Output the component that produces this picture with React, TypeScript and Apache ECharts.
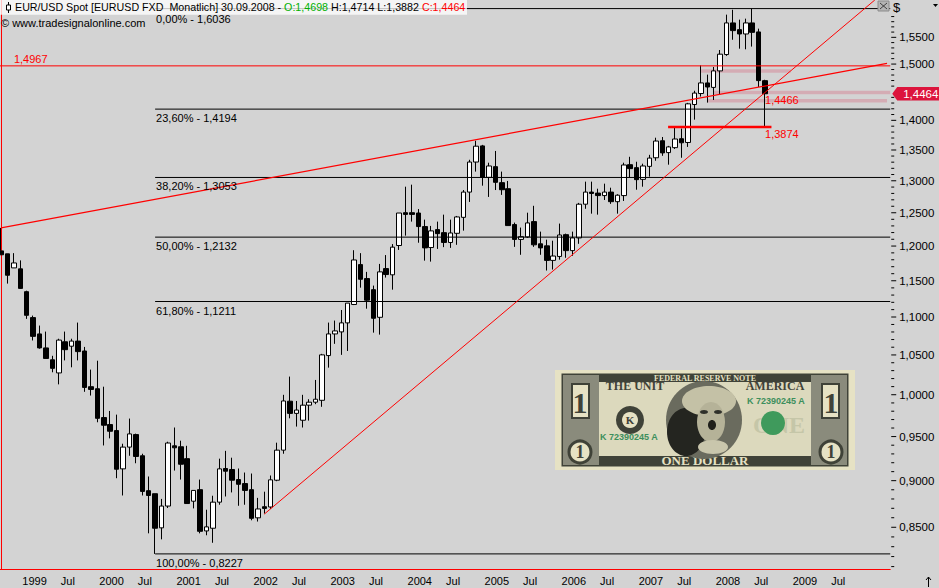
import { useEffect, useRef } from 'react';
import * as echarts from 'echarts';

const FONT = '"Liberation Sans", sans-serif';

const opens = [
  1.1929, 1.1886, 1.1683, 1.1669, 1.1347, 1.0992, 1.0774, 1.0591, 1.0438, 1.0271,
  1.0671, 1.0613, 1.068, 1.0551, 1.0099, 1.0074, 0.9724, 0.9641, 0.957, 0.9131,
  0.9378, 0.9523, 0.9279, 0.889, 0.8857, 0.8494, 0.8724, 0.9393, 0.9382, 0.9246,
  0.8776, 0.8901, 0.8462, 0.849, 0.8766, 0.9135, 0.9124, 0.9012, 0.8968, 0.8901,
  0.8599, 0.8717, 0.8714, 0.9005, 0.9343, 0.9921, 0.9774, 0.9692, 0.9873, 0.9909,
  0.9932, 1.0492, 1.0774, 1.0801, 1.0921, 1.117, 1.173, 1.1531, 1.1375, 1.0996,
  1.1673, 1.1584, 1.2008, 1.2501, 1.2501, 1.2496, 1.229, 1.1978, 1.2245, 1.2199,
  1.2053, 1.2189, 1.243, 1.2821, 1.3302, 1.3568, 1.3055, 1.3227, 1.297, 1.2874,
  1.232, 1.2098, 1.2135, 1.2365, 1.2033, 1.2003, 1.1791, 1.1848, 1.2169, 1.1933,
  1.212, 1.2632, 1.2821, 1.2805, 1.2766, 1.2821, 1.2671, 1.2766, 1.3259, 1.3211,
  1.3023, 1.3232, 1.3372, 1.3654, 1.3457, 1.3539, 1.3688, 1.3625, 1.4274, 1.4468,
  1.4657, 1.4577, 1.4875, 1.5176, 1.5776, 1.5647, 1.5564, 1.5776, 1.5603, 1.4698,
];
const closes = [
  1.1872, 1.1578, 1.1754, 1.1393, 1.1023, 1.0742, 1.0591, 1.0455, 1.0329, 1.0693,
  1.0568, 1.068, 1.0543, 1.009, 1.0065, 0.9715, 0.9633, 0.9562, 0.9127, 0.9378,
  0.9531, 0.9271, 0.8882, 0.8838, 0.849, 0.8724, 0.9425, 0.937, 0.9183, 0.8751,
  0.8893, 0.8458, 0.8504, 0.8766, 0.9131, 0.9105, 0.9005, 0.896, 0.8893, 0.8594,
  0.8693, 0.8699, 0.9009, 0.9343, 0.9924, 0.9774, 0.9814, 0.9873, 0.9909, 0.9945,
  1.0501, 1.0774, 1.0814, 1.0921, 1.1189, 1.1797, 1.1521, 1.1229, 1.0983, 1.1626,
  1.1588, 1.1984, 1.2496, 1.2475, 1.2475, 1.229, 1.1973, 1.2225, 1.2184, 1.2053,
  1.2194, 1.2436, 1.2821, 1.3302, 1.3563, 1.3055, 1.3238, 1.2975, 1.2858, 1.2305,
  1.2098, 1.2139, 1.2345, 1.2018, 1.1973, 1.1791, 1.1854, 1.2164, 1.1933, 1.212,
  1.2632, 1.2821, 1.2799, 1.2766, 1.2821, 1.2671, 1.2772, 1.3254, 1.3195, 1.3018,
  1.3238, 1.3367, 1.3649, 1.3452, 1.3551, 1.3683, 1.362, 1.4286, 1.4476, 1.4657,
  1.4584, 1.4875, 1.5183, 1.5776, 1.5628, 1.5564, 1.5776, 1.5595, 1.4699, 1.4464,
];
const highs = [
  1.227, 1.1886, 1.1896, 1.1791, 1.1361, 1.1019, 1.0885, 1.0805, 1.0489, 1.0711,
  1.0805, 1.0711, 1.0925, 1.0604, 1.0313, 1.0426, 1.0099, 0.9803, 0.9759, 0.9417,
  0.9712, 0.9534, 0.9302, 0.9046, 0.8857, 0.8801, 0.944, 0.9606, 0.9452, 0.9393,
  0.8893, 0.9012, 0.8685, 0.8835, 0.9246, 0.9335, 0.9257, 0.9135, 0.909, 0.9079,
  0.8812, 0.8879, 0.9057, 0.9429, 0.9999, 1.0225, 0.9924, 0.9999, 0.9945, 1.0183,
  1.0514, 1.0925, 1.0952, 1.1095, 1.1189, 1.1939, 1.1896, 1.1626, 1.1432, 1.174,
  1.1868, 1.2029, 1.2496, 1.2906, 1.2938, 1.2557, 1.2395, 1.23, 1.2365, 1.2471,
  1.2395, 1.2451, 1.2853, 1.3339, 1.3654, 1.3585, 1.3291, 1.3484, 1.3147, 1.2997,
  1.235, 1.2275, 1.2501, 1.2607, 1.2214, 1.2094, 1.2079, 1.2335, 1.2184, 1.2214,
  1.2652, 1.2986, 1.2986, 1.2874, 1.2954, 1.289, 1.2787, 1.3291, 1.3388, 1.3307,
  1.3275, 1.342, 1.3705, 1.3717, 1.3568, 1.3876, 1.3859, 1.4303, 1.4517, 1.4976,
  1.4807, 1.4947, 1.5261, 1.5937, 1.6033, 1.584, 1.5859, 1.6056, 1.5666, 1.4714,
];
const lows = [
  1.1872, 1.146, 1.1683, 1.1385, 1.0975, 1.0688, 1.0581, 1.0455, 1.0279, 1.0128,
  1.043, 1.0342, 1.043, 1.0036, 0.999, 0.9668, 0.9397, 0.9479, 0.9027, 0.8838,
  0.9279, 0.9194, 0.8838, 0.8437, 0.8227, 0.8375, 0.8703, 0.9112, 0.9012, 0.8751,
  0.8699, 0.8437, 0.8417, 0.834, 0.8738, 0.8827, 0.8871, 0.8727, 0.8738, 0.8573,
  0.856, 0.8644, 0.8693, 0.8994, 0.9302, 0.9715, 0.9617, 0.9606, 0.9688, 0.9885,
  0.9853, 1.0338, 1.0644, 1.0501, 1.0551, 1.1162, 1.1403, 1.1113, 1.0791, 1.0765,
  1.1545, 1.1375, 1.1943, 1.2154, 1.2365, 1.2049, 1.1787, 1.1773, 1.1958, 1.1984,
  1.1973, 1.2018, 1.2229, 1.2667, 1.3147, 1.2922, 1.2745, 1.2853, 1.2777, 1.2305,
  1.1988, 1.1872, 1.212, 1.1988, 1.1872, 1.1645, 1.1659, 1.1801, 1.1829, 1.1858,
  1.2033, 1.2561, 1.2486, 1.2471, 1.2697, 1.2637, 1.2486, 1.2682, 1.305, 1.2858,
  1.2906, 1.3066, 1.3323, 1.3404, 1.3259, 1.3517, 1.3372, 1.3551, 1.4012, 1.4414,
  1.4308, 1.4354, 1.4457, 1.5152, 1.5454, 1.5286, 1.5274, 1.5325, 1.4584, 1.3882,
];

// months on the axis, Oct 1998 onwards (chart leaves empty room after the last bar)
const months: string[] = [];
for (let i = 0; i < 139; i++) {
  const m = 9 + i;
  months.push(`${1998 + Math.floor(m / 12)}-${(m % 12) + 1}`);
}
const isAxisMonth = (_: number, v: string) => !v.startsWith('2010') && (v.endsWith('-1') || v.endsWith('-7'));

const fibPrices = [1.6056, 1.4194, 1.3053, 1.2132, 1.1211, 0.8227];
const fibLabels = ['0,00% - 1,6036', '23,60% - 1,4194', '38,20% - 1,3053', '50,00% - 1,2132', '61,80% - 1,1211', '100,00% - 0,8227'];
const fibStart = 24;

const priceTicks = [0.85, 0.9, 0.95, 1.0, 1.05, 1.1, 1.15, 1.2, 1.25, 1.3, 1.35, 1.4, 1.5, 1.55];
const priceTickLabels = ['0,8500', '0,9000', '0,9500', '1,0000', '1,0500', '1,1000', '1,1500', '1,2000', '1,2500', '1,3000', '1,3500', '1,4000', '1,5000', '1,5500'];
const minorTicks: number[] = [];
for (let c = 81; c <= 159; c++) if (c % 5 !== 0) minorTicks.push(c / 100);

const redLabels = ['1,4967', '1,4466', '1,3874'];
const redLabelAt = [[2, 1.4967], [119, 1.4466], [119, 1.3874]];

const bands = [
  [109, 123, 1.4873],
  [111, 138.5, 1.4486],
  [110, 138, 1.4339],
];

const upperTrend = [[0, 1.227], [138, 1.5014]];
const lowerTrend = [[41, 0.8638], [136.1, 1.6226]];
const resistance = [[-0.5, 1.4967], [138.5, 1.4967]];
const supportLine = [[103.9, 1.3885], [120, 1.3885]];
const lastClose = 1.4464;

const line = (data: number[][], color: string, width: number, z: number) => ({
  type: 'line',
  xAxisIndex: 1,
  data,
  symbol: 'none',
  silent: true,
  z,
  lineStyle: { color, width },
});

const billGraphics = () => {
  const ink = '#3f4238';
  const paper = '#e6e2c4';
  const green = '#3d8f5c';
  const txt = (text: string, x: number, y: number, size: number, fill: string) => ({
    type: 'text',
    style: { text, x, y, fill, font: `bold ${size}px "Liberation Serif", serif`, textAlign: 'center', textVerticalAlign: 'middle' },
  });
  return {
    type: 'group',
    z: 4,
    children: [
      { type: 'rect', shape: { x: 555, y: 370, width: 300, height: 100 }, style: { fill: paper } },
      { type: 'rect', shape: { x: 563, y: 375, width: 284, height: 90 }, style: { fill: '#dcd9bd', stroke: ink, lineWidth: 3 } },
      { type: 'rect', shape: { x: 563, y: 375, width: 284, height: 7 }, style: { fill: ink } },
      { type: 'rect', shape: { x: 563, y: 456, width: 284, height: 9 }, style: { fill: ink } },
      { type: 'rect', shape: { x: 563, y: 375, width: 36, height: 90 }, style: { fill: '#8a8b7c' } },
      { type: 'rect', shape: { x: 811, y: 375, width: 36, height: 90 }, style: { fill: '#8a8b7c' } },
      { type: 'circle', shape: { cx: 580, cy: 452, r: 11 }, style: { fill: paper, stroke: ink, lineWidth: 3 } },
      { type: 'circle', shape: { cx: 831, cy: 452, r: 11 }, style: { fill: paper, stroke: ink, lineWidth: 3 } },
      { type: 'rect', shape: { x: 572, y: 384, width: 17, height: 34 }, style: { fill: paper, stroke: ink, lineWidth: 2 } },
      { type: 'rect', shape: { x: 822, y: 384, width: 17, height: 34 }, style: { fill: paper, stroke: ink, lineWidth: 2 } },
      txt('1', 580, 402, 30, ink),
      txt('1', 831, 402, 30, ink),
      txt('1', 580, 452, 18, ink),
      txt('1', 831, 452, 18, ink),
      txt('FEDERAL RESERVE NOTE', 705, 378.5, 8, paper),
      txt('THE UNIT', 635, 386, 12, ink),
      txt('AMERICA', 775, 386, 12, ink),
      txt('ONE DOLLAR', 705, 460.5, 13, paper),
      { type: 'circle', shape: { cx: 630, cy: 420, r: 14 }, style: { fill: ink } },
      { type: 'circle', shape: { cx: 630, cy: 420, r: 8 }, style: { fill: paper } },
      txt('K', 630, 420, 11, ink),
      { type: 'text', style: { text: 'K 72390245 A', x: 600, y: 437, fill: green, font: `bold 9px ${FONT}`, textVerticalAlign: 'middle' } },
      { type: 'text', style: { text: 'K 72390245 A', x: 747, y: 401, fill: green, font: `bold 9px ${FONT}`, textVerticalAlign: 'middle' } },
      txt('ONE', 779, 425, 24, '#c5c6a8'),
      { type: 'circle', shape: { cx: 773, cy: 423, r: 12 }, style: { fill: '#3f9a5c' } },
      { type: 'ellipse', shape: { cx: 704, cy: 420, rx: 38, ry: 39 }, style: { fill: '#6a6b5e' } },
      { type: 'ellipse', shape: { cx: 686, cy: 432, rx: 19, ry: 24 }, style: { fill: '#242520' } },
      { type: 'ellipse', shape: { cx: 709, cy: 401, rx: 27, ry: 15 }, style: { fill: '#c4c1a6' } },
      { type: 'ellipse', shape: { cx: 711, cy: 422, rx: 14, ry: 20 }, style: { fill: '#b5b298' } },
      { type: 'ellipse', shape: { cx: 712, cy: 425, rx: 4, ry: 5 }, style: { fill: '#1f1f1a' } },
      { type: 'ellipse', shape: { cx: 704, cy: 412, rx: 4, ry: 2 }, style: { fill: '#2f302a' } },
      { type: 'ellipse', shape: { cx: 718, cy: 412, rx: 4, ry: 2 }, style: { fill: '#2f302a' } },
      { type: 'ellipse', shape: { cx: 713, cy: 447, rx: 15, ry: 7 }, style: { fill: '#c9c6ac' } },
    ],
  };
};

export default function App() {
  const chartRef = useRef<HTMLDivElement>(null);

  useEffect(() => {
    if (!chartRef.current) return;
    document.body.style.margin = '0';
    const chart = echarts.init(chartRef.current, undefined, { renderer: 'svg' });

    const tickSeries = (values: number[], len: number, labels?: string[]) => ({
      type: 'custom',
      xAxisIndex: 1,
      silent: true,
      z: 6,
      clip: false,
      data: values.map((v) => [138.5, v]),
      encode: { x: 0, y: 1 },
      renderItem: (params: any, api: any) => {
        const [x, y] = api.coord([api.value(0), api.value(1)]);
        const children: any[] = [
          { type: 'line', shape: { x1: x + 1, y1: y, x2: x + len, y2: y }, style: { stroke: '#000', lineWidth: 1 } },
        ];
        if (labels) {
          children.push({
            type: 'text',
            style: { text: labels[params.dataIndex], x: x + 9, y, fill: '#000', font: `11.5px ${FONT}`, textVerticalAlign: 'middle' },
          });
        }
        return { type: 'group', children };
      },
    });

    const labelSeries = (texts: string[], at: number[][], fill: string, dx: number, dy: (i: number) => number) => ({
      type: 'custom',
      xAxisIndex: 1,
      silent: true,
      z: 7,
      data: at,
      encode: { x: 0, y: 1 },
      renderItem: (params: any, api: any) => {
        const [x, y] = api.coord([api.value(0), api.value(1)]);
        return {
          type: 'text',
          style: { text: texts[params.dataIndex], x: x + dx, y: y + dy(params.dataIndex), fill, font: `11px ${FONT}`, textVerticalAlign: 'middle' },
        };
      },
    });

    const axisFont = { color: '#000', fontFamily: FONT, fontSize: 11 };

    chart.setOption({
      animation: false,
      backgroundColor: '#d3d3d3',
      grid: { left: -2.17, top: 0, width: 892.4, height: 569, containLabel: false, outerBoundsMode: 'none' },
      xAxis: [
        {
          type: 'category',
          data: months,
          boundaryGap: true,
          axisLine: { lineStyle: { color: '#ff0000', width: 1 } },
          axisTick: { alignWithLabel: true, length: 5, interval: isAxisMonth, lineStyle: { color: '#000' } },
          axisLabel: {
            ...axisFont,
            interval: isAxisMonth,
            hideOverlap: false,
            align: 'left',
            margin: 6,
            padding: [0, 0, 0, 2],
            formatter: (v: string) => (v.endsWith('-7') ? 'Jul' : v.slice(0, 4)),
          },
          splitLine: { show: false },
        },
        { type: 'value', show: false, min: -0.5, max: 138.5, splitLine: { show: false } },
      ],
      yAxis: {
        type: 'log',
        logBase: 10,
        min: 0.8076,
        max: 1.6226,
        position: 'right',
        axisLine: { show: true, lineStyle: { color: '#ff0000', width: 1 } },
        axisTick: { show: false },
        axisLabel: { show: false },
        splitLine: { show: false },
        minorSplitLine: { show: false },
      },
      graphic: [
        { type: 'rect', z: 8, shape: { x: 0, y: 0, width: 467, height: 14.7 }, style: { fill: 'rgba(255,255,255,0.76)' } },
        { type: 'line', z: 9, shape: { x1: 8.5, y1: 2, x2: 8.5, y2: 13 }, style: { stroke: '#000', lineWidth: 1 } },
        { type: 'rect', z: 9, shape: { x: 6.5, y: 5, width: 4, height: 5 }, style: { fill: '#fff', stroke: '#000', lineWidth: 1 } },
        {
          type: 'text',
          z: 9,
          style: {
            x: 15,
            y: 6.5,
            textVerticalAlign: 'middle',
            text: '{k|EUR/USD Spot [EURUSD FXD  Monatlich] 30.09.2008 - }{g|O:1,4698}{k| H:1,4714 L:1,3882 }{r|C:1,4464}',
            rich: {
              k: { fill: '#000', font: `10.7px ${FONT}` },
              g: { fill: '#00b000', font: `10.7px ${FONT}` },
              r: { fill: '#ff0000', font: `10.7px ${FONT}` },
            },
          },
        },
        { type: 'text', z: 9, style: { x: 1, y: 23, text: '© www.tradesignalonline.com', fill: '#000', font: `11px ${FONT}`, textVerticalAlign: 'middle' } },
        { type: 'text', z: 9, style: { x: 893, y: 7, text: '$', fill: '#000', font: `13px ${FONT}`, textVerticalAlign: 'middle' } },
        { type: 'polygon', z: 9, shape: { points: [[933, 4], [938, 4], [935.5, 7]] }, style: { fill: '#000' } },
        { type: 'rect', z: 9, shape: { x: 878, y: 1, width: 11, height: 10 }, style: { fill: '#b4b4b4', stroke: '#8c8c8c', lineWidth: 1 } },
        { type: 'line', z: 10, shape: { x1: 880, y1: 3, x2: 887, y2: 9 }, style: { stroke: '#222', lineWidth: 0.8 } },
        { type: 'line', z: 10, shape: { x1: 887, y1: 3, x2: 880, y2: 9 }, style: { stroke: '#222', lineWidth: 0.8 } },
        { type: 'line', z: 9, shape: { x1: 928.5, y1: 577, x2: 928.5, y2: 587 }, style: { stroke: '#000', lineWidth: 1 } },
        { type: 'polyline', z: 9, shape: { points: [[926, 580], [928.5, 577], [931, 580]] }, style: { stroke: '#000', lineWidth: 1, fill: 'none' } },
        billGraphics(),
      ],
      series: [
        ...bands.map(([a, b, p]) => line([[a, p], [b, p]], 'rgba(220,20,60,0.2)', 3.6, 1)),
        {
          type: 'candlestick',
          xAxisIndex: 0,
          z: 2,
          silent: true,
          barWidth: 5,
          data: opens.map((o, i) => [o, closes[i], lows[i], highs[i]]),
          itemStyle: { color: '#fff', color0: '#000', borderColor: '#000', borderColor0: '#000', borderWidth: 1 },
        },
        ...fibPrices.map((p) => line([[fibStart, p], [138.5, p]], '#000', 1, 3)),
        line(resistance, '#ff0000', 1, 3),
        line(upperTrend, '#ff0000', 1.2, 3),
        line(lowerTrend, '#ff0000', 1, 3),
        line(supportLine, '#ff0000', 2.4, 3),
        tickSeries(minorTicks, 4),
        tickSeries(priceTicks, 6, priceTickLabels),
        labelSeries(fibLabels, fibPrices.map((p) => [fibStart, p]), '#000', 1, (i) => (i === 0 ? 10 : 9)),
        labelSeries(redLabels, redLabelAt, '#ff0000', 0, (i) => (i === 0 ? -7 : 6)),
        {
          type: 'custom',
          xAxisIndex: 1,
          silent: true,
          z: 8,
          clip: false,
          data: [[138.5, lastClose]],
          encode: { x: 0, y: 1 },
          renderItem: (_: any, api: any) => {
            const [x, y] = api.coord([api.value(0), api.value(1)]);
            return {
              type: 'group',
              children: [
                {
                  type: 'polygon',
                  shape: { points: [[x + 2, y], [x + 7, y - 6.7], [x + 49, y - 6.7], [x + 49, y + 6.7], [x + 7, y + 6.7]] },
                  style: { fill: '#dc143c' },
                },
                {
                  type: 'text',
                  style: { text: '1,4464', x: x + 13, y, fill: '#fff', font: `11.5px ${FONT}`, textVerticalAlign: 'middle' },
                },
              ],
            };
          },
        },
      ],
    });

    return () => {
      chart.dispose();
    };
  }, []);

  return <div ref={chartRef} style={{ width: 939, height: 588 }} />;
}
